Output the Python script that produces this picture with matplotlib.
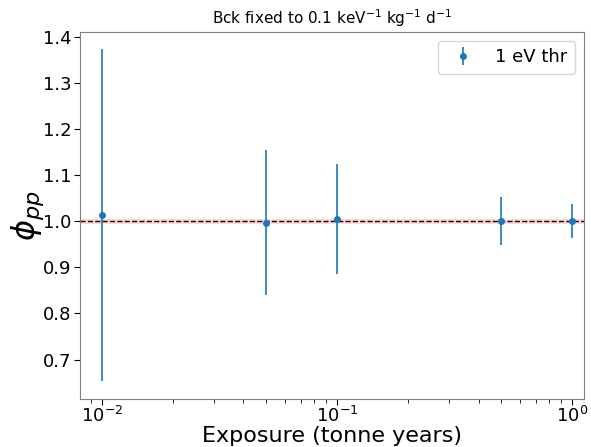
import numpy as np
from matplotlib import pyplot as plt

# exposures (tonne years) and fitted pp flux ratio
exposure = [0.01, 0.05, 0.1, 0.5, 1.0]
phi_pp = [1.013, 0.997, 1.005, 1.000, 1.001]
phi_err = [0.360, 0.158, 0.120, 0.052, 0.037]

fig, ax = plt.subplots(figsize=(5.91, 4.47), dpi=100)
ax.axhspan(0.995, 1.005, color='red', alpha=0.15, lw=0)
ax.axhline(1.0, color='black', ls='--', lw=1)
ax.errorbar(exposure, phi_pp, yerr=phi_err, fmt='o', ms=4,
            color='tab:blue', elinewidth=1.2, label='1 eV thr')
ax.set_xscale('log')
ax.set_xlim(10**-2.094, 10**0.05)
ax.set_ylim(0.615, 1.41)
ax.set_xlabel('Exposure (tonne years)', fontsize=16, labelpad=0)
ax.set_ylabel(r'$\phi_{pp}$', fontsize=23, labelpad=-2)
ax.set_title(r'Bck fixed to 0.1 keV$^{-1}$ kg$^{-1}$ d$^{-1}$', fontsize=11)
ax.tick_params(axis='both', which='major', labelsize=13, length=4)
ax.tick_params(axis='y', which='major', pad=2)
ax.tick_params(axis='x', which='major', pad=1)
ax.tick_params(axis='x', which='minor', length=3)
for s in ax.spines.values():
    s.set_color('grey')
ax.legend(fontsize=13, loc='upper right')
fig.subplots_adjust(left=0.135, right=0.988, top=0.928, bottom=0.108)
fig.savefig('out.png')
